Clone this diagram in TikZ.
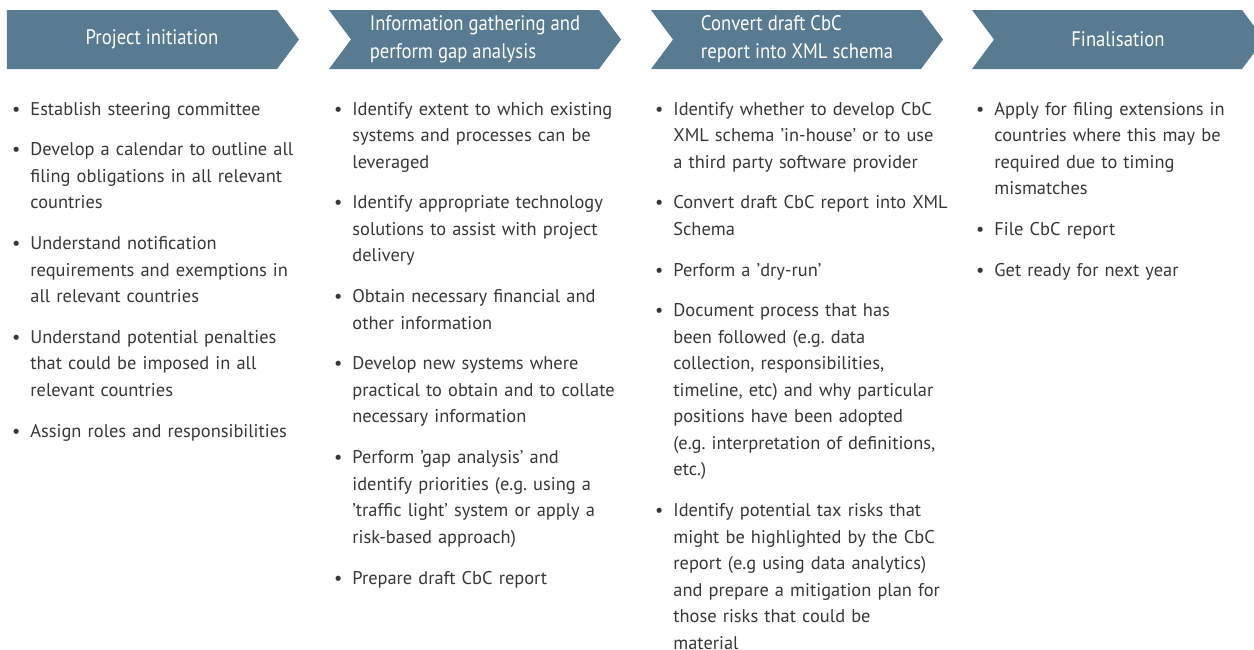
\documentclass[tikz,border=0pt]{standalone}
\usepackage{fontspec}
\setmainfont{PT Sans}
\newfontfamily\headfont[FakeStretch=0.89]{PT Sans}
\usetikzlibrary{positioning,shapes.symbols}
\frenchspacing

\definecolor{stageblue}{RGB}{89,123,146}
\definecolor{bodygrey}{RGB}{55,55,55}

% bullet hanging to the left of the item text
\newcommand\bul{\leavevmode\strut\llap{\textbullet\hspace{5pt}}}

\begin{document}
\begin{tikzpicture}[
    x=0.5pt, y=-0.5pt,
    node distance=6.75pt,
    stage/.style={signal, signal to=east, signal from=west, signal pointer angle=106.6,
        fill=stageblue, text=white, inner sep=0pt, align=left,
        minimum width=146pt, minimum height=29.5pt,
        font=\headfont\fontsize{10.5}{14}\selectfont},
    start/.style={signal from=nowhere, execute at begin node=\hspace*{10pt}},
    point/.style={text width=152pt, align=left, inner sep=0pt, text=bodygrey,
        font=\fontsize{9.2}{13.25}\selectfont, execute at end node=\strut}
]
\useasboundingbox (0,0) rectangle (1254,649);
\clip (0,0) rectangle (1254,649);

% stages
\node[stage,start] (init) at (142,39.5) {Project initiation};
\node[stage] (gather) at (475,39.5) {Information gathering and\\perform gap analysis};
\node[stage] (convert) at (797,39.5) {Convert draft CbC\\report into XML schema};
\node[stage] (final) at (1118,39.5) {Finalisation};

% project initiation
\node[point,anchor=base west] (init1) at (30,115) {\bul Establish steering committee};
\node[point,below=of init1] (init2) {\bul Develop a calendar to outline all\\filing obligations in all relevant\\countries};
\node[point,below=of init2] (init3) {\bul Understand notification\\requirements and exemptions in\\all relevant countries};
\node[point,below=of init3] (init4) {\bul Understand potential penalties\\that could be imposed in all\\relevant countries};
\node[point,below=of init4] (init5) {\bul Assign roles and responsibilities};

% information gathering
\node[point,anchor=base west] (gather1) at (352,115) {\bul Identify extent to which existing\\systems and processes can be\\leveraged};
\node[point,below=of gather1] (gather2) {\bul Identify appropriate technology\\solutions to assist with project\\delivery};
\node[point,below=of gather2] (gather3) {\bul Obtain necessary financial and\\other information};
\node[point,below=of gather3] (gather4) {\bul Develop new systems where\\practical to obtain and to collate\\necessary information};
\node[point,below=of gather4] (gather5) {\bul Perform 'gap analysis' and\\identify priorities (e.g. using a\\'traffic light' system or apply a\\risk-based approach)};
\node[point,below=of gather5] (gather6) {\bul Prepare draft CbC report};

% conversion to XML
\node[point,anchor=base west] (convert1) at (673,115) {\bul Identify whether to develop CbC\\XML schema 'in-house' or to use\\a third party software provider};
\node[point,below=of convert1] (convert2) {\bul Convert draft CbC report into XML\\Schema};
\node[point,below=of convert2] (convert3) {\bul Perform a 'dry-run'};
\node[point,below=of convert3] (convert4) {\bul Document process that has\\been followed (e.g. data\\collection, responsibilities,\\timeline, etc) and why particular\\positions have been adopted\\(e.g. interpretation of definitions,\\etc.)};
\node[point,below=of convert4] (convert5) {\bul Identify potential tax risks that\\might be highlighted by the CbC\\report (e.g using data analytics)\\and prepare a mitigation plan for\\those risks that could be\\material};

% finalisation
\node[point,anchor=base west] (final1) at (994,115) {\bul Apply for filing extensions in\\countries where this may be\\required due to timing\\mismatches};
\node[point,below=of final1] (final2) {\bul File CbC report};
\node[point,below=of final2] (final3) {\bul Get ready for next year};

\end{tikzpicture}
\end{document}
